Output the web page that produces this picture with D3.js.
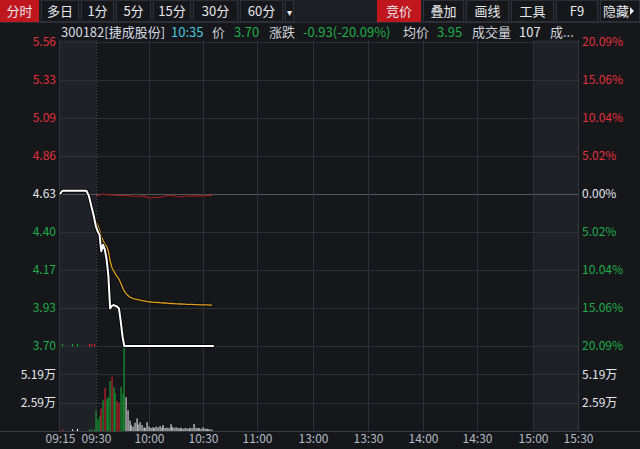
<!DOCTYPE html>
<html><head><meta charset="utf-8">
<script src="https://cdn.jsdelivr.net/npm/d3@7"></script>
<style>
body{margin:0;background:#15171b;}
svg{display:block;font-family:"Noto Sans CJK SC","Noto Sans",sans-serif;}
</style></head>
<body><svg id="c" width="640" height="449"></svg>
<script>
// ---------------- data ----------------
const prevClose = 4.63;
const priceTicks = ["5.56","5.33","5.09","4.86","4.63","4.40","4.17","3.93","3.70"];
const pctTicks = [20.09,15.06,10.04,5.02,0,-5.02,-10.04,-15.06,-20.09];
const pctLabels = ["20.09%","15.06%","10.04%","5.02%","0.00%","5.02%","10.04%","15.06%","20.09%"];
const volTicks = [5.19, 2.59];
const volLabels = ["5.19万","2.59万"];
const volMax = 7.78;
// trading minutes from 09:30 (lunch removed, after-hours 15:05-15:30 appended)
const timeTicks = [-15,0,30,60,90,120,150,180,210,240,265];
const timeLabels = ["09:15","09:30","10:00","10:30","11:00","13:00","13:30","14:00","14:30","15:00","15:30"];

// pre-market indicative price (09:15 - 09:29)
const preTimes = [-15,-14,-13,-12,-11,-10,-9,-8,-7,-6,-5,-4,-3,-2,-1];
const prePrice = [4.63,4.65,4.65,4.65,4.65,4.65,4.65,4.65,4.65,4.65,4.65,4.65,4.62,4.56,4.50];

// minute data 09:30 .. 10:35
const price = [4.43,4.40,4.38,4.28,4.32,4.29,4.23,4.13,3.93,3.945,3.95,3.945,3.94,3.93,3.85,3.76,3.70,
  3.70,3.70,3.70,3.70,3.70,3.70,3.70,3.70,3.70,3.70,3.70,3.70,3.70,3.70,3.70,3.70,3.70,3.70,3.70,3.70,
  3.70,3.70,3.70,3.70,3.70,3.70,3.70,3.70,3.70,3.70,3.70,3.70,3.70,3.70,3.70,3.70,3.70,3.70,3.70,3.70,
  3.70,3.70,3.70,3.70,3.70,3.70,3.70,3.70,3.70,3.70];
const avgPrice = [4.46,4.44,4.41,4.37,4.345,4.325,4.31,4.28,4.22,4.18,4.16,4.14,4.125,4.11,4.085,4.06,4.035,
  4.02,4.01,4.00,3.995,3.99,3.988,3.985,3.982,3.98,3.978,3.976,3.974,3.972,3.97,
  3.969,3.968,3.967,3.967,3.966,3.965,3.964,3.963,3.963,3.962,
  3.961,3.960,3.960,3.959,3.958,3.958,3.957,3.957,3.956,3.956,
  3.955,3.955,3.954,3.954,3.953,3.953,3.953,3.952,3.952,3.952,3.951,3.951,3.951,3.950,3.950];
const indexPct = [-0.26,-0.2,-0.13,-0.07,0,-0.03,-0.05,-0.09,-0.12,-0.1,-0.14,-0.16,-0.17,-0.18,-0.2,-0.19,
  -0.21,-0.22,-0.24,-0.22,-0.27,-0.3,-0.33,-0.36,-0.34,-0.3,-0.28,-0.26,-0.35,-0.45,-0.53,-0.5,-0.48,-0.42,
  -0.44,-0.46,-0.4,-0.38,-0.36,-0.3,-0.22,-0.17,-0.2,-0.24,-0.26,-0.3,-0.33,-0.35,-0.38,-0.36,-0.33,-0.3,
  -0.28,-0.26,-0.3,-0.26,-0.24,-0.26,-0.28,-0.26,-0.24,-0.22,-0.2,-0.18,-0.17,-0.17];
// volume in 万 (10k shares), colour: r=up g=down w=flat
const volume = [1.85,1.09,1.37,2.07,2.82,3.92,2.91,3.10,4.58,4.95,4.0,3.45,2.76,2.55,4.04,3.4,7.68,
  3.1,1.9,0.95,0.55,0.4,0.75,1.15,0.6,0.8,0.55,0.3,0.3,0.8,
  0.4,0.28,0.33,0.28,0.4,0.33,0.45,0.33,0.55,0.28,0.3,0.28,0.62,0.38,0.3,0.35,0.28,0.25,0.3,0.22,
  0.28,0.25,0.2,0.3,0.25,0.65,0.3,0.25,0.28,0.2,0.32,0.22,0.2,0.18,0.15,0.12];
const volColor = "gggrgrgggrggrrggg" + "w".repeat(49);
// pre-market auction volume
const preVolTimes = [-14,-10,-8,-3,-2,-1];
const preVol = [0.1,0.15,0.2,0.12,0.12,0.14];
const preVolColor = "rwwggg";
const auctionColor = "gggrrr";

// toolbar / header
const leftButtons = ["分时","多日","1分","5分","15分","30分","60分","▾"];
const rightButtons = ["竞价","叠加","画线","工具","F9","隐藏"];
const headerItems = ["300182[捷成股份]","10:35","价","3.70","涨跌","-0.93(-20.09%)","均价","3.95","成交量","107","成..."];

// ---------------- layout ----------------
const L = 60, R = 578, T = 42, PB = 346, VB = 431;
const RED = "#e2313a", GREEN = "#1fae47", WHITE = "#e3e6ea";
const svg = d3.select("#c");

const x = d3.scaleLinear()
  .domain(timeTicks)
  .range([60,96,149,203,257,313,368,423,477,533,578]);
const y = d3.scaleLinear().domain([-20.09, 20.09]).range([PB, T]);
const toPct = p => (p / prevClose - 1) * 100;
const yv = d3.scaleLinear().domain([0, volMax]).range([VB, PB]);

svg.append("rect").attr("width",640).attr("height",449).attr("fill","#15171b");

// toolbar
svg.append("rect").attr("x",0).attr("y",0).attr("width",640).attr("height",22).attr("fill","#1b1e22");
const lbEdges = [[0,39],[41,79],[81,114],[116,151],[153,191],[193,238],[240,283],[285,294]];
const rbEdges = [[377,421],[423,464],[466,509],[511,554],[556,598],[600,640]];
function buttons(labels, edges, redIdx){
  const g = svg.append("g");
  labels.forEach((t,i)=>{
    const [a,b] = edges[i];
    g.append("rect").attr("x",a+0.5).attr("y",0.5).attr("width",b-a-1).attr("height",21)
      .attr("fill", i===redIdx ? "#c0161e" : "#15171b")
      .attr("stroke", i===redIdx ? "#c0161e" : "#2c2f35");
    const isHide = t==="隐藏";
    g.append("text").attr("x",isHide ? a+3 : (a+b)/2).attr("y",16).attr("text-anchor",isHide?"start":"middle")
      .attr("font-size", t==="▾"?10:13).attr("fill", "#e6e8eb").text(t);
    if (isHide) {
      g.append("path").attr("d",`M${a+30},7 L${a+34},11 L${a+30},15 Z`).attr("fill","#e6e8eb");
    }
  });
}
buttons(leftButtons, lbEdges, 0);
buttons(rightButtons, rbEdges, 0);
svg.append("line").attr("x1",0).attr("x2",640).attr("y1",22.5).attr("y2",22.5).attr("stroke","#2c2f35");

// header line
const hdrX = [61,171,212,234,269,303,403,437,472,519,550];
const hdrC = ["#d5dbe2","#4cc6dc","#cfd3d8",GREEN,"#cfd3d8",GREEN,"#cfd3d8",GREEN,"#cfd3d8","#e3e6ea","#cfd3d8"];
headerItems.forEach((t,i)=>{
  svg.append("text").attr("x",hdrX[i]).attr("y",37).attr("font-size",13).attr("fill",hdrC[i]).text(t);
});

// shaded auction / after-hours areas
svg.append("rect").attr("x",x(-15)).attr("y",T-2).attr("width",x(0)-x(-15)).attr("height",VB-T+2).attr("fill","#1e2125");
svg.append("rect").attr("x",x(240)).attr("y",T-2).attr("width",x(265)-x(240)).attr("height",VB-T+2).attr("fill","#1e2125");

// horizontal grid
const grid = svg.append("g");
pctTicks.forEach(p=>{
  grid.append("line").attr("x1",L).attr("x2",R).attr("y1",Math.round(y(p))+0.5).attr("y2",Math.round(y(p))+0.5)
    .attr("stroke", p===0 ? "#54575c" : "#2d3035");
});
volTicks.forEach(v=>{
  grid.append("line").attr("x1",L).attr("x2",R).attr("y1",Math.round(yv(v))+0.5).attr("y2",Math.round(yv(v))+0.5)
    .attr("stroke","#2d3035");
});
// vertical grid
timeTicks.slice(1,-1).forEach(t=>{
  grid.append("line").attr("x1",Math.round(x(t))+0.5).attr("x2",Math.round(x(t))+0.5).attr("y1",T-2).attr("y2",VB)
    .attr("stroke", t===0 ? "#4a4d52" : "#2d3035").attr("stroke-dasharray", t===0 ? "1,2" : null);
});
// borders
grid.append("line").attr("x1",L-0.5).attr("x2",L-0.5).attr("y1",T-2).attr("y2",VB).attr("stroke","#34373c");
grid.append("line").attr("x1",R+0.5).attr("x2",R+0.5).attr("y1",T-2).attr("y2",VB).attr("stroke","#34373c");
grid.append("line").attr("x1",0).attr("x2",640).attr("y1",VB+0.5).attr("y2",VB+0.5).attr("stroke","#3a3d42");

// axes (labels)
const fontSize = 12;
const axL = svg.append("g").attr("transform",`translate(${L},0)`)
  .call(d3.axisLeft(y).tickValues(pctTicks).tickFormat((d,i)=>priceTicks[i]).tickSize(0).tickPadding(4));
axL.selectAll("text").attr("fill",(d)=> d>0?RED:d<0?GREEN:WHITE);
const axR = svg.append("g").attr("transform",`translate(${R},0)`)
  .call(d3.axisRight(y).tickValues(pctTicks).tickFormat((d,i)=>pctLabels[i]).tickSize(0).tickPadding(4));
axR.selectAll("text").attr("fill",(d)=> d>0?RED:d<0?GREEN:WHITE);
const avL = svg.append("g").attr("transform",`translate(${L},0)`)
  .call(d3.axisLeft(yv).tickValues(volTicks).tickFormat((d,i)=>volLabels[i]).tickSize(0).tickPadding(4));
const avR = svg.append("g").attr("transform",`translate(${R},0)`)
  .call(d3.axisRight(yv).tickValues(volTicks).tickFormat((d,i)=>volLabels[i]).tickSize(0).tickPadding(4));
[avL,avR].forEach(a=>a.selectAll("text").attr("fill",WHITE));
const axB = svg.append("g").attr("transform",`translate(0,${VB})`)
  .call(d3.axisBottom(x).tickValues(timeTicks).tickFormat((d,i)=>timeLabels[i]).tickSize(0).tickPadding(3));
axB.selectAll("text").attr("fill","#b3bcc6");
[axL,axR,avL,avR,axB].forEach(a=>{
  a.select(".domain").remove();
  a.selectAll("text").attr("font-size",fontSize).attr("font-family",'"Noto Sans CJK SC","Noto Sans",sans-serif');
});

// volume bars
const colMap = {r:"#d9232b", g:"#17a636", w:"#e6e6e6"};
const vb = svg.append("g");
volume.forEach((v,i)=>{
  const top = yv(v);
  vb.append("rect").attr("x",Math.round(x(i))-0.5).attr("y",top).attr("width",1.1).attr("height",VB-top)
    .attr("fill",colMap[volColor[i]]);
});
preVolTimes.forEach((t,i)=>{
  const top = Math.min(yv(preVol[i]), VB-1.5);
  vb.append("rect").attr("x",Math.round(x(t))).attr("y",top).attr("width",1.1).attr("height",VB-top)
    .attr("fill",colMap[preVolColor[i]]);
  vb.append("rect").attr("x",Math.round(x(t))).attr("y",PB-2).attr("width",1.1).attr("height",2.5)
    .attr("fill",colMap[auctionColor[i]]);
});

// index reference line (dark red)
const idxLine = d3.line().x((d,i)=>x(i)).y(d=>y(d));
svg.append("path").attr("d",idxLine(indexPct)).attr("fill","none").attr("stroke","#9c1b1b").attr("stroke-width",1.2);

// average price line
const avgLine = d3.line().x((d,i)=>x(i)).y(d=>y(toPct(d)));
svg.append("path").attr("d",avgLine(avgPrice)).attr("fill","none").attr("stroke","#000").attr("stroke-opacity",0.6).attr("stroke-width",3);
svg.append("path").attr("d",avgLine(avgPrice)).attr("fill","none").attr("stroke","#e2a11c").attr("stroke-width",1.3);

// price line
const pts = preTimes.map((t,i)=>[t,prePrice[i]]).concat(price.map((p,i)=>[i,p]));
const pLine = d3.line().x(d=>x(d[0])).y(d=>y(toPct(d[1])));
svg.append("path").attr("d",pLine(pts)).attr("fill","none").attr("stroke","#000").attr("stroke-opacity",0.8).attr("stroke-width",4).attr("stroke-linejoin","round");
svg.append("path").attr("d",pLine(pts)).attr("fill","none").attr("stroke","#ffffff").attr("stroke-width",2).attr("stroke-linejoin","round");
</script></body></html>
